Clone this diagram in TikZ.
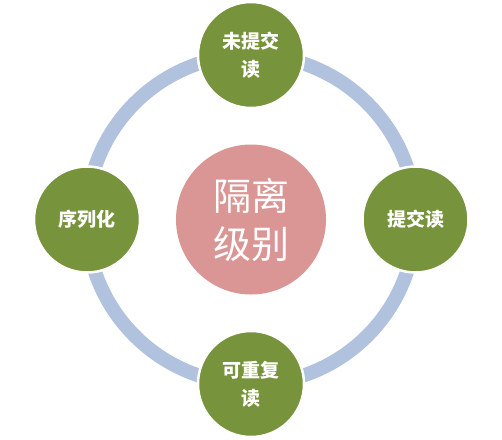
\documentclass[tikz,border=0pt]{standalone}
\usepackage{fontspec}
\newfontfamily\cjk{Noto Sans CJK SC}
\definecolor{ringblue}{HTML}{B0C2DE}
\definecolor{levelgreen}{HTML}{77933C}
\definecolor{corepink}{HTML}{D99694}

\begin{document}
\begin{tikzpicture}[x=1pt, y=1pt,
    % Outer isolation levels
    level/.style={
        circle,
        fill=levelgreen,
        draw=white,
        line width=2.5pt,
        minimum size=106pt,
        inner sep=0pt,
        align=center,
        text=white,
        font=\cjk\bfseries\fontsize{19}{28}\selectfont
    },
    % Central title
    core/.style={
        circle,
        fill=corepink,
        minimum size=150pt,
        inner sep=0pt,
        align=center,
        text=white,
        font=\cjk\fontsize{38}{48}\selectfont
    }
]
\useasboundingbox (0,0) rectangle (502,-439);

% 1. The ring behind the levels
\coordinate (mid) at (251,-219.5);
\draw[ringblue, line width=14pt] (mid) circle (164.5);

% 2. Central circle
\node[core] (iso) at (mid) {隔离\\级别};

% 3. The four levels round the ring
\node[level] (ru) at (251,-55)     {未提交\\读};
\node[level] (rc) at (415.5,-219.5) {提交读};
\node[level] (rr) at (251,-384)    {可重复\\读};
\node[level] (sr) at (87,-219.5)   {序列化};

\end{tikzpicture}
\end{document}
